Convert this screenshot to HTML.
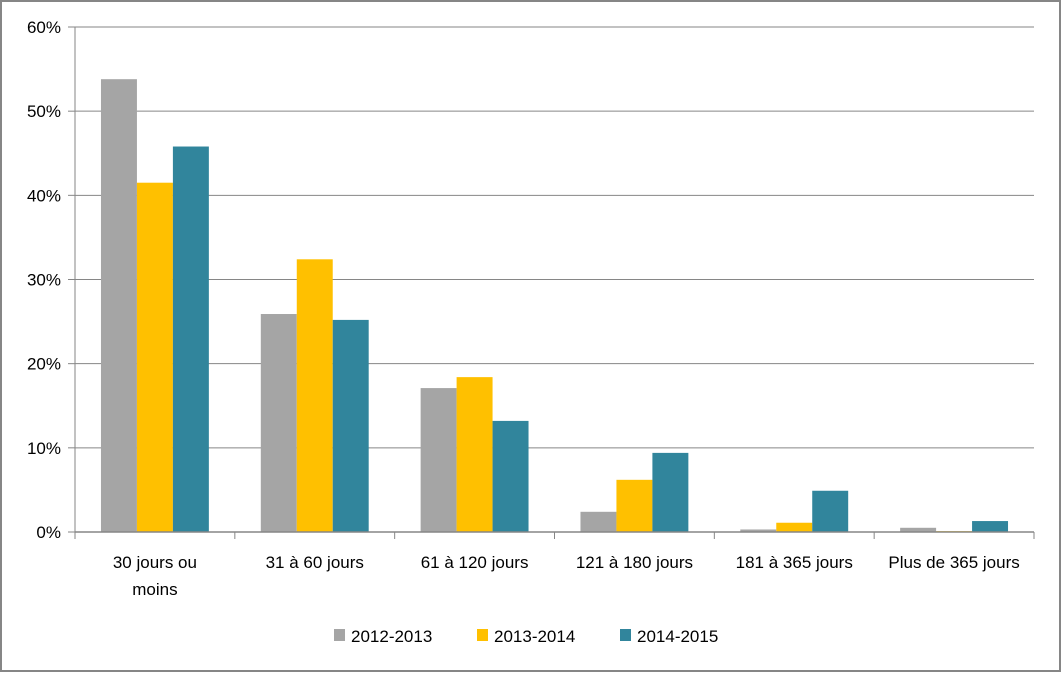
<!DOCTYPE html>
<html><head><meta charset="utf-8"><style>
body{margin:0;background:#fff}
svg text{font-family:"Liberation Sans",sans-serif;fill:#000}
</style></head><body>
<svg width="1062" height="673" xmlns="http://www.w3.org/2000/svg">
<rect x="1" y="1" width="1059" height="670" fill="#fff" stroke="#868686" stroke-width="2"/>
<g id="grid"></g><g id="bars"></g><g id="axes"></g><g id="legend"></g>
</svg>
<script>
const categories=[["30 jours ou","moins"],["31 à 60 jours"],["61 à 120 jours"],["121 à 180 jours"],["181 à 365 jours"],["Plus de 365 jours"]];
const seriesNames=["2012-2013","2013-2014","2014-2015"];
const s2012=[53.8,25.9,17.1,2.4,0.3,0.5];
const s2013=[41.5,32.4,18.4,6.2,1.1,0.1];
const s2014=[45.8,25.2,13.2,9.4,4.9,1.3];
const yTicks=[0,10,20,30,40,50,60];
const colors=["#A5A5A5","#FFC000","#31859C"];
const NS="http://www.w3.org/2000/svg";
const X0=75,X1=1034,Y0=532,Y1=27,YMAX=60;
const catW=(X1-X0)/categories.length, barW=catW*0.225;
const y=v=>Y0-(v/YMAX)*(Y0-Y1);
function mk(p,t,a){const e=document.createElementNS(NS,t);for(const k in a)e.setAttribute(k,a[k]);p.appendChild(e);return e;}
const grid=document.getElementById('grid'),bars=document.getElementById('bars'),axes=document.getElementById('axes'),legend=document.getElementById('legend');
yTicks.forEach(t=>{
 const l=mk(grid,'line',{x1:X0,x2:X1,y1:y(t),y2:y(t),stroke:'#868686','stroke-width':1});
 
 
 const tk=mk(axes,'line',{x1:X0-7,x2:X0,y1:y(t),y2:y(t),stroke:'#868686'});
 
 
 const tx=mk(axes,'text',{x:X0-14,y:y(t)+6,'text-anchor':'end','font-size':17});
 tx.textContent=t+'%';
 
 
});
const data=[s2012,s2013,s2014];
categories.forEach((c,i)=>{
 const gx=X0+i*catW+(catW-3*barW)/2;
 data.forEach((s,j)=>{
  const r=mk(bars,'rect',{x:gx+j*barW,y:y(s[i]),width:barW,height:Y0-y(s[i]),fill:colors[j]});
  
  
 });
 c.forEach((line,k)=>{
  const tx=mk(axes,'text',{x:X0+(i+0.5)*catW,y:568+k*27,'text-anchor':'middle','font-size':17});
  tx.textContent=line;
  
  
 });
});
const ax=mk(axes,'line',{x1:X0,x2:X0,y1:Y1,y2:Y0,stroke:'#868686'});


const bx=mk(axes,'line',{x1:X0,x2:X1,y1:Y0,y2:Y0,stroke:'#868686','stroke-width':1.5});


for(let i=0;i<=categories.length;i++){
 const t=mk(axes,'line',{x1:X0+i*catW,x2:X0+i*catW,y1:Y0,y2:Y0+7,stroke:'#868686'});
 
 
}
const lx=[334,477,620];
seriesNames.forEach((n,j)=>{
 const g=mk(legend,'g',{});
 
 
 mk(g,'rect',{x:lx[j],y:629,width:11,height:12,fill:colors[j]});
 const t=mk(g,'text',{x:lx[j]+17,y:642,'font-size':17});
 t.textContent=n;
});
</script>
</body></html>
